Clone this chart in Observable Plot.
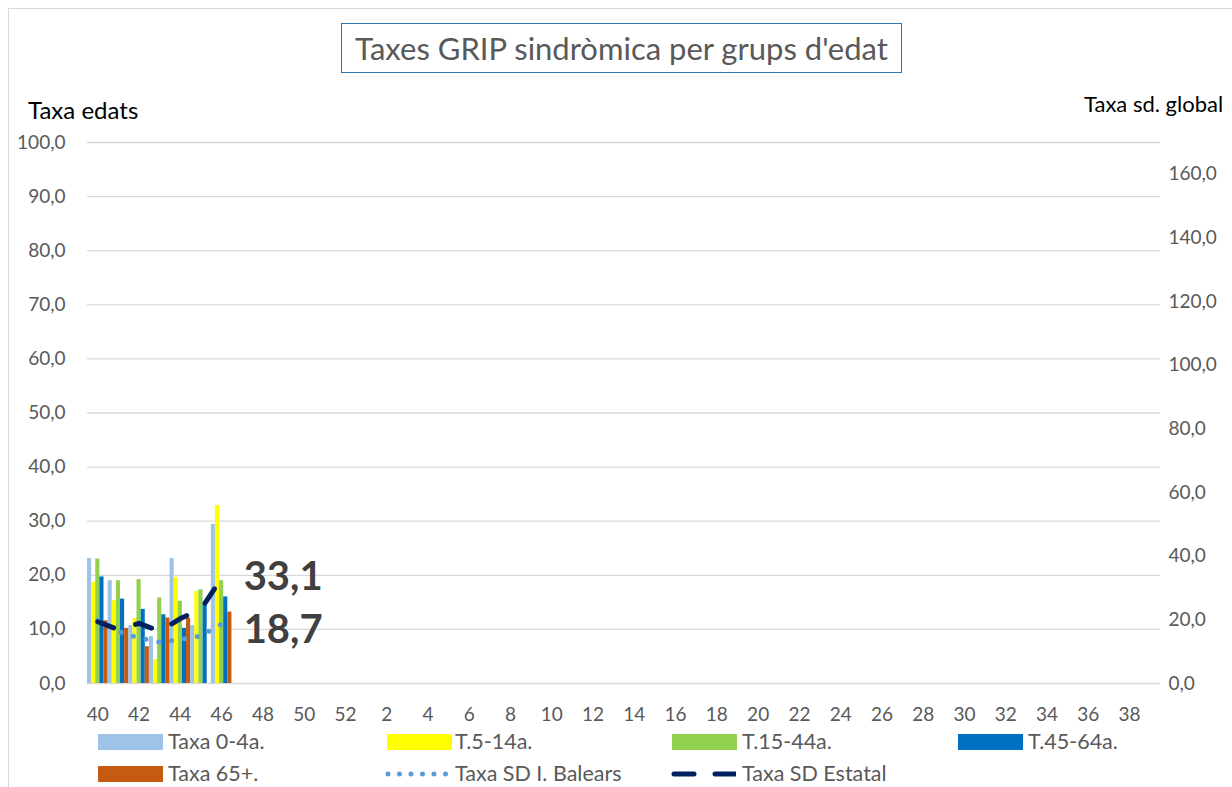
<!DOCTYPE html>
<html><head><meta charset="utf-8">
<script src="https://cdn.jsdelivr.net/npm/d3@7"></script>
<script src="https://cdn.jsdelivr.net/npm/@observablehq/plot@0.6"></script>
<style>
body{margin:0;background:#fff;font-family:Lato,sans-serif;}
#wrap{position:relative;width:1232px;height:787px;overflow:hidden;background:#fff;}
#wrap svg{position:absolute;left:0;top:0;}
.abs{position:absolute;white-space:nowrap;line-height:1;}
.lg{position:absolute;white-space:nowrap;font-size:21.5px;color:#595959;line-height:1;}
</style></head><body><div id="wrap"></div>
<script>
// Categories (epidemiological weeks) and tick labels
const weeks = ["40","41","42","43","44","45","46","47","48","49","50","51","52",
  "1","2","3","4","5","6","7","8","9","10","11","12","13","14","15","16","17","18","19","20",
  "21","22","23","24","25","26","27","28","29","30","31","32","33","34","35","36","37","38","39"];
const xTickLabels = ["40","42","44","46","48","50","52","2","4","6","8","10","12","14","16","18","20",
  "22","24","26","28","30","32","34","36","38"];
const yTicks = [0,10,20,30,40,50,60,70,80,90,100];
const y2Ticks = [0,20,40,60,80,100,120,140,160];
const y2Max = 170;

// Data (weeks with values)
const dataWeeks = ["40","41","42","43","44","45","46"];
const taxa04 = [23.1, 19.0, 10.7, 8.7, 23.1, 10.7, 29.4];
const t514   = [18.7, 15.3, 12.0, 4.4, 19.6, 17.0, 32.9];
const t1544  = [23.0, 19.0, 19.2, 15.8, 15.2, 17.3, 19.0];
const t4564  = [19.7, 15.6, 13.7, 12.7, 10.2, 14.5, 16.0];
const t65    = [11.6, 10.2, 6.8, 12.1, 12.1, null, 13.2];
const balears = [19.8, 16.4, 14.3, 13.0, 13.8, 15.0, 18.7];
const estatal = [19.4, 16.9, 18.9, 16.4, 20.4, 23.4, 33.1];

const series = ["Taxa 0-4a.","T.5-14a.","T.15-44a.","T.45-64a.","Taxa 65+."];
const colors = ["#9dc3e6","#ffff00","#92d050","#0070c0","#c55a11"];
const values = [taxa04, t514, t1544, t4564, t65];

const key = (w, i) => w + "|" + i;
const xDomain = weeks.flatMap(w => series.map((s, i) => key(w, i)));
const bars = [];
dataWeeks.forEach((w, j) => values.forEach((arr, i) => {
  if (arr[j] != null) bars.push({k: key(w, i), v: arr[j], s: series[i]});
}));
const lines = dataWeeks.map((w, j) => ({k: key(w, 2), bal: balears[j], est: estatal[j]}));
const R = 100 / y2Max;
const fmt = d => d.toFixed(1).replace(".", ",");

const chart = Plot.plot({
  width: 1232, height: 787,
  marginLeft: 87, marginRight: 72, marginTop: 142, marginBottom: 104,
  style: {fontFamily: "Lato, sans-serif", fontSize: "19px", color: "#595959", background: "transparent"},
  x: {type: "band", domain: xDomain, padding: 0},
  y: {domain: [0, 100]},
  color: {domain: series, range: colors},
  marks: [
    Plot.ruleY(yTicks, {stroke: "#d9d9d9", strokeWidth: 1.3}),
    Plot.barY(bars, {x: "k", y: "v", fill: "s", inset: 0}),
    Plot.line(lines, {x: "k", y: d => d.bal * R, stroke: "#5b9bd5", strokeWidth: 5,
      strokeDasharray: "0,13", strokeLinecap: "round"}),
    Plot.line(lines, {x: "k", y: d => d.est * R, stroke: "#002060", strokeWidth: 5,
      strokeDasharray: "17,23", strokeLinecap: "round"}),
    Plot.text(lines, Plot.selectLast({x: "k", y: d => d.est * R, text: d => fmt(d.est),
      fontSize: 40, fontWeight: "bold", fill: "#404040", dx: 22, dy: -1, textAnchor: "start"})),
    Plot.text(lines, Plot.selectLast({x: "k", y: d => d.bal * R, text: d => fmt(d.bal),
      fontSize: 40, fontWeight: "bold", fill: "#404040", dx: 22, dy: 6, textAnchor: "start"})),
    Plot.axisY({ticks: yTicks, tickSize: 0, tickPadding: 22, tickFormat: fmt, label: null, fontSize: 19}),
    Plot.axisY({anchor: "right", ticks: y2Ticks.map(v => v * R), tickSize: 0, tickPadding: 8,
      tickFormat: d => fmt(d / R), label: null, fontSize: 19}),
    Plot.axisX({ticks: xTickLabels.map(w => key(w, 2)), tickSize: 0, tickPadding: 24,
      tickFormat: k => k.split("|")[0], label: null, fontSize: 19})
  ]
});

const wrap = document.getElementById("wrap");
wrap.appendChild(chart);

function add(html, style, cls) {
  const d = document.createElement("div");
  d.className = cls || "abs";
  d.setAttribute("style", style);
  d.innerHTML = html;
  wrap.appendChild(d);
  return d;
}
// chart area border
add("", "left:8px;top:8px;width:1400px;height:900px;border-left:1.5px solid #d9d9d9;border-top:1.5px solid #d9d9d9;");
// title
add("Taxes GRIP sindròmica per grups d'edat",
  "left:341px;top:23px;width:559px;height:48px;border:1.5px solid #2e75b6;font-size:31px;color:#595959;text-align:center;line-height:48px;");
// axis titles
add("Taxa edats", "left:28px;top:98px;font-size:24px;color:#000;");
add("Taxa sd. global", "left:1084px;top:93px;font-size:22px;color:#000;");

// legend
const legendItems = [
  {label: series[0], type: "rect", color: colors[0], sx: 98, tx: 168, row: 0},
  {label: series[1], type: "rect", color: colors[1], sx: 387, tx: 455, row: 0},
  {label: series[2], type: "rect", color: colors[2], sx: 672, tx: 742, row: 0},
  {label: series[3], type: "rect", color: colors[3], sx: 958, tx: 1028, row: 0},
  {label: series[4], type: "rect", color: colors[4], sx: 98, tx: 168, row: 1},
  {label: "Taxa SD I. Balears", type: "dot", color: "#5b9bd5", sx: 385, tx: 455, row: 1},
  {label: "Taxa SD Estatal", type: "dash", color: "#002060", sx: 671, tx: 742, row: 1}
];
legendItems.forEach(it => {
  const cy = it.row === 0 ? 742 : 774;
  let sw;
  if (it.type === "rect") {
    sw = `<svg width="65" height="16"><rect x="0" y="0" width="65" height="16" fill="${it.color}"/></svg>`;
  } else if (it.type === "dot") {
    sw = `<svg width="65" height="16"><line x1="3" y1="8" x2="62" y2="8" stroke="${it.color}" stroke-width="5" stroke-linecap="round" stroke-dasharray="0,11.5"/></svg>`;
  } else {
    sw = `<svg width="65" height="16"><line x1="3" y1="8" x2="64" y2="8" stroke="${it.color}" stroke-width="5" stroke-linecap="round" stroke-dasharray="20,21"/></svg>`;
  }
  add(sw, `left:${it.sx}px;top:${cy - 8}px;`, "abs");
  add(it.label, `left:${it.tx}px;top:${cy - 11}px;`, "lg");
});
</script></body></html>
